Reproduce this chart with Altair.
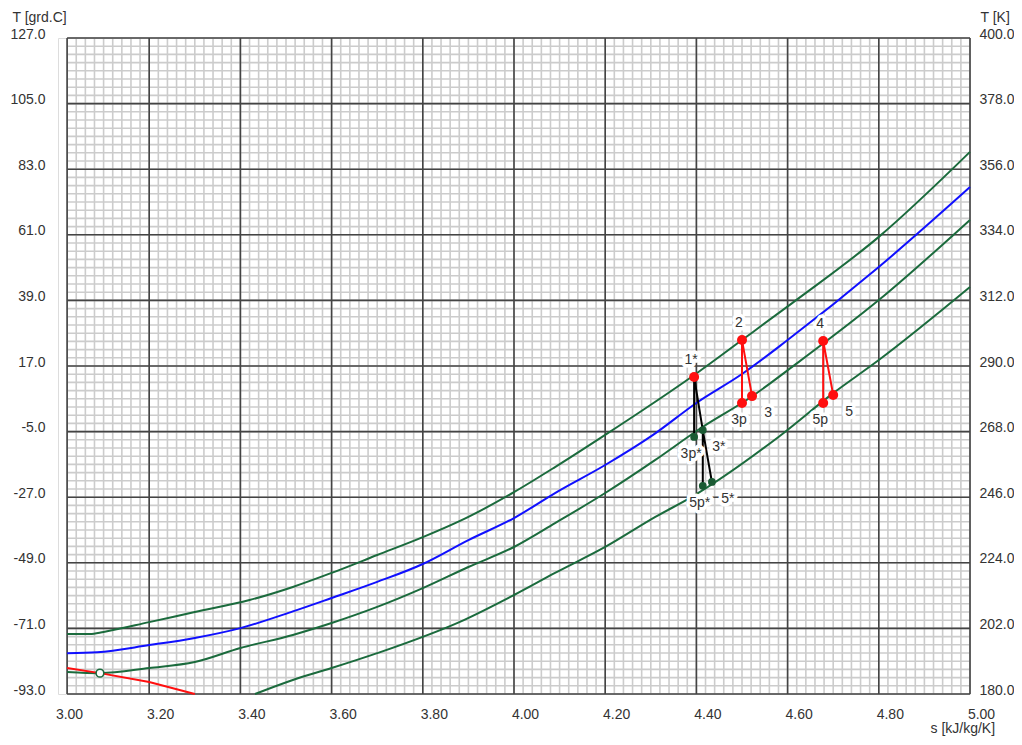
import altair as alt
import pandas as pd

# ---------------- axis ticks / grid ----------------
S_LABELS = [3.0, 3.2, 3.4, 3.6, 3.8, 4.0, 4.2, 4.4, 4.6, 4.8, 5.0]
S_MAJOR = [3.02, 3.2, 3.4, 3.6, 3.8, 4.0, 4.2, 4.4, 4.6, 4.8, 5.0]
S_LEFT, S_RIGHT = 3.02, 5.0
S_MINOR = [round(3.0 + 0.02 * i, 2) for i in range(1, 101)]
T_MAJOR = [127.0, 105.0, 83.0, 61.0, 39.0, 17.0, -5.0, -27.0, -49.0, -71.0, -93.0]
T_MINOR = [round(-93 + 2.75 * i, 2) for i in range(81)]
K_LABELS = [400.0, 378.0, 356.0, 334.0, 312.0, 290.0, 268.0, 246.0, 224.0, 202.0, 180.0]

# ---------------- curves ----------------
iso1_s = [3.02, 3.07, 3.10, 3.20, 3.30, 3.42, 3.515, 3.60, 3.70, 3.80, 3.90, 4.00, 4.09, 4.20, 4.30, 4.40, 4.50, 4.61, 4.80, 5.00]
iso1_T = [-72.9, -72.9, -72.2, -68.9, -65.5, -61.5, -57.1, -52.4, -46.4, -40.4, -33.6, -25.3, -16.9, -6.1, 4.0, 14.5, 25.7, 38.1, 60.3, 88.8]

blue_s = [3.02, 3.086, 3.20, 3.30, 3.40, 3.515, 3.60, 3.70, 3.80, 3.90, 4.00, 4.09, 4.20, 4.305, 4.40, 4.50, 4.60, 4.80, 5.00]
blue_T = [-79.3, -79.0, -76.6, -74.2, -70.9, -65.3, -60.8, -55.4, -49.4, -41.4, -34.0, -25.6, -16.2, -6.1, 4.6, 14.3, 25.7, 50.2, 77.0]

iso2_s = [3.02, 3.092, 3.20, 3.30, 3.40, 3.515, 3.60, 3.70, 3.80, 3.90, 4.00, 4.09, 4.20, 4.31, 4.41, 4.52, 4.61, 4.80, 5.00]
iso2_T = [-85.6, -86.0, -84.3, -82.3, -77.6, -73.2, -69.2, -63.8, -57.5, -50.4, -43.7, -35.7, -25.6, -14.5, -3.8, 6.6, 16.7, 39.1, 66.0]

iso3_s = [3.432, 3.515, 3.60, 3.70, 3.89, 4.00, 4.09, 4.20, 4.31, 4.39, 4.58, 4.70, 4.80, 5.00]
iso3_T = [-93.0, -88.3, -84.3, -79.3, -68.2, -59.8, -52.4, -43.7, -33.6, -26.9, -6.8, 7.9, 19.0, 43.5]

red_s = [3.02, 3.092, 3.20, 3.30]
red_T = [-84.3, -86.0, -89.0, -93.0]

marker_s = [3.092]
marker_T = [-86.0]

# ---------------- cycle points ----------------
pt_name = ["1*", "2", "3", "3p", "4", "5", "5p", "3p*", "3*", "5p*", "5*"]
pt_s = [4.395, 4.500, 4.522, 4.500, 4.678, 4.700, 4.678, 4.395, 4.414, 4.414, 4.434]
pt_T = [13.3, 25.7, 6.9, 4.6, 25.4, 7.3, 4.6, -6.8, -4.5, -23.2, -21.9]
pt_group = ["red", "red", "red", "red", "red", "red", "red", "green", "green", "green", "green"]
pt_label_pos = ["above", "above", "belowright", "below", "above", "belowright", "below",
                "below", "belowright", "below", "belowright"]

# cycle paths (point names in drawing order)
red_paths = {"r1": ["3p", "2", "3"], "r2": ["5p", "4", "5"]}
black_paths = {"k1": ["3p*", "1*", "3*"], "k2": ["5p*", "3*", "5*"]}

GREEN = "#1b6b3d"
GREEN_DOT = "#1a5a33"
BLUE = "#1010ff"
RED = "#ff0f0f"
TXT = "#333333"
FONT = "Liberation Sans"

# ---------------- data frames ----------------
def curve_df(ss, tt):
    return pd.DataFrame({"s": ss, "T": tt})

iso_rows = []
for name, ss, tt in [("iso1", iso1_s, iso1_T), ("iso2", iso2_s, iso2_T), ("iso3", iso3_s, iso3_T)]:
    for s, t in zip(ss, tt):
        iso_rows.append({"curve": name, "s": s, "T": t})
iso_df = pd.DataFrame(iso_rows)

pts_df = pd.DataFrame({"name": pt_name, "s": pt_s, "T": pt_T, "grp": pt_group, "pos": pt_label_pos})
lookup = {n: (s, t) for n, s, t in zip(pt_name, pt_s, pt_T)}


def paths_df(paths):
    rows = []
    for pid, names in paths.items():
        for i, n in enumerate(names):
            rows.append({"path": pid, "o": i, "s": lookup[n][0], "T": lookup[n][1]})
    return pd.DataFrame(rows)


# ---------------- scales / encodings ----------------
xscale = alt.Scale(domain=[3.0, 5.0], nice=False, zero=False)
yscale = alt.Scale(domain=[-93, 127], nice=False, zero=False)

x_axis = alt.Axis(values=S_LABELS, format=".2f", labelOffset=11, labelFlush=False, ticks=False,
                  domain=False, grid=False, labelPadding=13, labelFontSize=14, labelColor=TXT,
                  labelFont=FONT, labelOverlap=False,
                  title="s [kJ/kg/K]", titleX=872, titleY=34, titleAlign="left", titleBaseline="middle",
                  titleFontSize=14, titleFontWeight="normal", titleColor=TXT, titleFont=FONT)
y_axis = alt.Axis(values=T_MAJOR, labelExpr="replace(format(datum.value, '.1f'), '\u2212', '-')",
                  labelFlush=False, labelOverlap=False,
                  ticks=False, domain=False, grid=False, labelPadding=13, labelOffset=-4,
                  labelFontSize=14, labelColor=TXT, labelFont=FONT,
                  title="T [grd.C]", titleAngle=0, titleX=-46, titleY=-21, titleAlign="left",
                  titleBaseline="middle", titleFontSize=14, titleFontWeight="normal", titleColor=TXT,
                  titleFont=FONT)


def X(field="s"):
    return alt.X(f"{field}:Q", scale=xscale, axis=x_axis)


def Y(field="T"):
    return alt.Y(f"{field}:Q", scale=yscale, axis=y_axis)


# grid
MINOR_C = "#cccccc"
MAJOR_C = "#444444"
minor_v = alt.Chart(pd.DataFrame({"s": S_MINOR})).mark_rule(color=MINOR_C, strokeWidth=1.6).encode(x=X())
minor_h = alt.Chart(pd.DataFrame({"T": T_MINOR})).mark_rule(color=MINOR_C, strokeWidth=1.6).encode(
    y=Y(), x=alt.datum(S_LEFT, scale=xscale, axis=x_axis), x2=alt.datum(S_RIGHT))
major_v = alt.Chart(pd.DataFrame({"s": S_MAJOR})).mark_rule(color=MAJOR_C, strokeWidth=1.6).encode(x=X())
major_h = alt.Chart(pd.DataFrame({"T": T_MAJOR})).mark_rule(color=MAJOR_C, strokeWidth=1.6).encode(
    y=Y(), x=alt.datum(S_LEFT, scale=xscale, axis=x_axis), x2=alt.datum(S_RIGHT))

iso_lines = alt.Chart(iso_df).mark_line(strokeWidth=2, color=GREEN, interpolate="monotone").encode(
    x=X(), y=Y(), detail="curve:N")
blue_line = alt.Chart(curve_df(blue_s, blue_T)).mark_line(strokeWidth=2, color=BLUE, interpolate="monotone").encode(
    x=X(), y=Y())
red_line = alt.Chart(curve_df(red_s, red_T)).mark_line(strokeWidth=2, color=RED).encode(x=X(), y=Y())

marker = alt.Chart(curve_df(marker_s, marker_T)).mark_point(
    shape="circle", filled=True, fill="white", stroke=GREEN, strokeWidth=1.6, size=60, opacity=1).encode(x=X(), y=Y())

red_cycle = alt.Chart(paths_df(red_paths)).mark_line(strokeWidth=2, color=RED).encode(
    x=X(), y=Y(), detail="path:N", order="o:Q")
black_cycle = alt.Chart(paths_df(black_paths)).mark_line(strokeWidth=2, color="#000000").encode(
    x=X(), y=Y(), detail="path:N", order="o:Q")

red_pts = alt.Chart(pts_df).transform_filter(alt.datum.grp == "red").mark_circle(
    size=100, color=RED, opacity=1).encode(x=X(), y=Y())
green_pts = alt.Chart(pts_df).transform_filter(alt.datum.grp == "green").mark_circle(
    size=60, color=GREEN_DOT, opacity=1).encode(x=X(), y=Y())

label_layers = []
for pos, (dx, dy) in {"above": (-3, -17), "below": (-3, 17), "belowright": (16, 17)}.items():
    sub = alt.Chart(pts_df).transform_filter(alt.datum.pos == pos)
    halo = sub.mark_text(dx=dx, dy=dy, fontSize=14, font=FONT, fill="white", stroke="white",
                         strokeWidth=7, strokeJoin="round").encode(x=X(), y=Y(), text="name:N")
    txt = sub.mark_text(dx=dx, dy=dy, fontSize=14, font=FONT, color=TXT).encode(x=X(), y=Y(), text="name:N")
    label_layers += [halo, txt]

main = alt.layer(minor_v, minor_h, major_v, major_h, iso_lines, blue_line, red_line, marker,
                 red_cycle, black_cycle, red_pts, green_pts, *label_layers)

right_axis = alt.Chart(pd.DataFrame({"K": K_LABELS})).mark_rule(opacity=0).encode(
    y=alt.Y("K:Q", scale=alt.Scale(domain=[180, 400], nice=False, zero=False),
            axis=alt.Axis(orient="right", values=K_LABELS, format=".1f", ticks=False, domain=False,
                          grid=False, labelFlush=False, labelOverlap=False,
                          labelPadding=9, labelOffset=-4, labelFontSize=14, labelColor=TXT,
                          labelFont=FONT, title="T [K]", titleAngle=0, titleX=10, titleY=-21,
                          titleAlign="left", titleBaseline="middle", titleFontSize=14,
                          titleFontWeight="normal", titleColor=TXT, titleFont=FONT)))

chart = alt.layer(main, right_axis).resolve_scale(y="independent").properties(
    width=912, height=656, autosize=alt.AutoSizeParams(type="none"),
    padding={"left": 50, "top": 30, "right": 44, "bottom": 43},
).configure_view(strokeWidth=0).configure(font=FONT, background="white")

chart.save("out.html", embed_options={"renderer": "svg", "actions": False})
